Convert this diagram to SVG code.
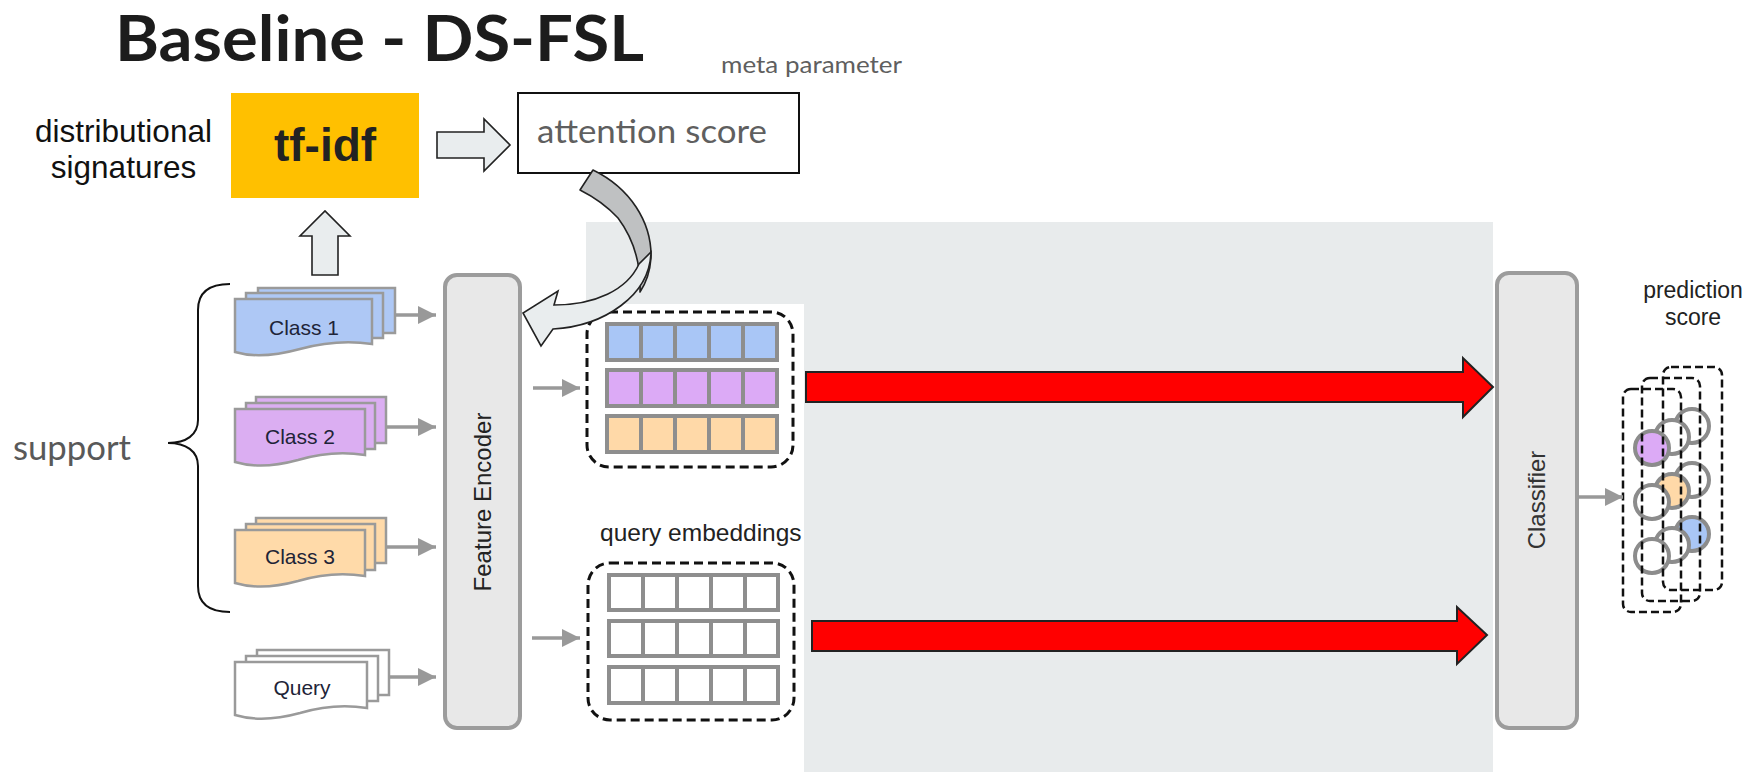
<svg xmlns="http://www.w3.org/2000/svg" width="1750" height="772" viewBox="0 0 1750 772">
  <defs>
    <style>
      .sans { font-family: "Liberation Sans", Arial, sans-serif; }
      .lato { font-family: Lato, "Open Sans", sans-serif; }
      .card { stroke: #9a9a9a; stroke-width: 2.5; }
      .c1 { fill: #aec8f5; }
      .c2 { fill: #dbaef2; }
      .c3 { fill: #ffdaa9; }
      .cq { fill: #ffffff; }
      .cardtext { font-size: 21px; fill: #1e2438; text-anchor: middle; }
      .block { fill: #e9edee; stroke: #222; stroke-width: 1.6; stroke-linejoin: miter; }
      .encoder { fill: #e8e8e8; stroke: #9c9c9c; stroke-width: 4; }
      .flow { stroke: #999; stroke-width: 3.5; fill: none; marker-end: url(#grayHead); }
      .dash { fill: none; stroke: #111; stroke-width: 3; stroke-dasharray: 9 5; }
      .cells { stroke: #8e8e8e; stroke-width: 4; }
      .red { fill: #ff0000; stroke: #222; stroke-width: 2; stroke-linejoin: miter; }
      .score { stroke: #8c8c8c; stroke-width: 4; }
      .s-w { fill: #ffffff; }
      .s-b { fill: #a9c6f6; }
      .s-o { fill: #ffd9a8; }
      .s-p { fill: #dcaaf6; }
      .pbox { fill: none; stroke: #111; stroke-width: 2.5; stroke-dasharray: 8 4; }
    </style>
    <marker id="grayHead" viewBox="0 0 18 18" markerWidth="18" markerHeight="18" refX="18" refY="9" markerUnits="userSpaceOnUse" orient="auto">
      <path d="M0,0 L18,9 L0,18 Z" fill="#999"/>
    </marker>
  </defs>

  <rect width="1750" height="772" fill="#ffffff"/>

  <!-- shaded panel behind the embedding / classifier stage -->
  <path d="M586,222 H1493 V772 H804 V304 H586 Z" fill="#e8ebec"/>

  <!-- title -->
  <text x="115" y="61" class="lato" font-size="63" font-weight="bold" fill="#1c1c1c" textLength="529" lengthAdjust="spacingAndGlyphs">Baseline - DS-FSL</text>

  <!-- distributional signatures label -->
  <g id="ds-label">
    <text x="123.5" y="142" class="sans" font-size="31.5" fill="#111" text-anchor="middle">distributional</text>
    <text x="123.5" y="178" class="sans" font-size="31.5" fill="#111" text-anchor="middle">signatures</text>
  </g>

  <!-- tf-idf -->
  <g id="tfidf">
    <rect x="231" y="93" width="188" height="105" fill="#ffc000"/>
    <text x="325" y="161" class="sans" font-size="46" font-weight="bold" fill="#222" text-anchor="middle">tf-idf</text>
  </g>

  <!-- attention score -->
  <g id="attention">
    <text x="721" y="73" class="lato" font-size="24" fill="#5f5f5f" textLength="181" lengthAdjust="spacingAndGlyphs">meta parameter</text>
    <rect x="518" y="93" width="281" height="80" fill="#ffffff" stroke="#111" stroke-width="2"/>
    <text x="537" y="143" class="lato" font-size="32" fill="#5f5f5f" textLength="230" lengthAdjust="spacingAndGlyphs">attention score</text>
  </g>

  <!-- support label and brace -->
  <g id="support">
    <text x="13" y="460" class="lato" font-size="34" fill="#595959" textLength="118" lengthAdjust="spacingAndGlyphs">support</text>
    <path d="M230,284 C210,284 198,292 198,310 V420 C198,435 186,443 168,443 C186,443 198,451 198,466 V586 C198,604 210,612 230,612" fill="none" stroke="#111" stroke-width="2"/>
  </g>

  <!-- input document stacks -->
  <g id="class1">
    <rect class="card c1" x="258" y="288" width="137" height="45"/>
    <rect class="card c1" x="246" y="293" width="137" height="45"/>
    <path class="card c1" d="M235,299 H372 V344 C345,340 322,343 300,349 C278,355 255,358 235,352 Z"/>
    <text x="304" y="335" class="sans cardtext">Class 1</text>
  </g>
  <g id="class2">
    <rect class="card c2" x="256" y="397" width="130" height="46"/>
    <rect class="card c2" x="246" y="403" width="129" height="46"/>
    <path class="card c2" d="M235,409 H365 V455 C340,451 318,454 298,460 C276,466 255,468 235,462 Z"/>
    <text x="300" y="444" class="sans cardtext">Class 2</text>
  </g>
  <g id="class3">
    <rect class="card c3" x="256" y="518" width="130" height="45"/>
    <rect class="card c3" x="246" y="524" width="129" height="46"/>
    <path class="card c3" d="M235,530 H365 V576 C340,572 318,575 298,581 C276,587 255,589 235,583 Z"/>
    <text x="300" y="564" class="sans cardtext">Class 3</text>
  </g>
  <g id="query">
    <rect class="card cq" x="257" y="650" width="132" height="45"/>
    <rect class="card cq" x="246" y="656" width="132" height="45"/>
    <path class="card cq" d="M235,662 H367 V708 C342,704 320,707 300,713 C278,719 255,721 235,715 Z"/>
    <text x="302" y="695" class="sans cardtext">Query</text>
  </g>

  <!-- feature encoder -->
  <g id="feature-encoder">
    <rect class="encoder" x="445" y="275" width="75" height="453" rx="12"/>
    <text transform="translate(491,502) rotate(-90)" class="sans" font-size="24" fill="#222" text-anchor="middle">Feature Encoder</text>
  </g>

  <!-- support embeddings -->
  <g id="support-embeddings">
    <rect class="dash" x="587" y="312" width="206" height="155" rx="22"/>
    <g class="cells">
      <rect x="607" y="324" width="170" height="36" fill="#a9c6f6"/>
      <rect x="607" y="370" width="170" height="36" fill="#dcaaf6"/>
      <rect x="607" y="416" width="170" height="36" fill="#ffd9a8"/>
      <path d="M641,324 V360 M675,324 V360 M709,324 V360 M743,324 V360 M641,370 V406 M675,370 V406 M709,370 V406 M743,370 V406 M641,416 V452 M675,416 V452 M709,416 V452 M743,416 V452" fill="none"/>
    </g>
  </g>

  <!-- query embeddings -->
  <g id="query-embeddings">
    <text x="600" y="541" class="sans" font-size="24.5" fill="#222">query embeddings</text>
    <rect class="dash" x="588" y="563" width="206" height="157" rx="22"/>
    <g class="cells" fill="#ffffff">
      <rect x="609" y="575" width="169" height="35"/>
      <rect x="609" y="621" width="169" height="35"/>
      <rect x="609" y="667" width="169" height="36"/>
      <path d="M643,575 V610 M677,575 V610 M711,575 V610 M745,575 V610 M643,621 V656 M677,621 V656 M711,621 V656 M745,621 V656 M643,667 V703 M677,667 V703 M711,667 V703 M745,667 V703" fill="none"/>
    </g>
  </g>

  <!-- classifier -->
  <g id="classifier">
    <rect class="encoder" x="1497" y="273" width="80" height="455" rx="12"/>
    <text transform="translate(1545,500) rotate(-90)" class="sans" font-size="24" fill="#333" text-anchor="middle">Classifier</text>
  </g>

  <!-- prediction score: three stacked score columns -->
  <g id="prediction-score">
    <text x="1693" y="298" class="sans" font-size="23" fill="#222" text-anchor="middle">prediction</text>
    <text x="1693" y="325" class="sans" font-size="23" fill="#222" text-anchor="middle">score</text>
    <circle class="score s-w" cx="1692" cy="426" r="17"/>
    <circle class="score s-w" cx="1692" cy="480" r="17"/>
    <circle class="score s-b" cx="1692" cy="534" r="17"/>
    <circle class="score s-w" cx="1672" cy="437" r="17"/>
    <circle class="score s-o" cx="1672" cy="491" r="17"/>
    <circle class="score s-w" cx="1672" cy="545" r="17"/>
    <circle class="score s-p" cx="1652" cy="448" r="17"/>
    <circle class="score s-w" cx="1652" cy="502" r="17"/>
    <circle class="score s-w" cx="1652" cy="556" r="17"/>
    <rect class="pbox" x="1663" y="367" width="59" height="223" rx="8"/>
    <rect class="pbox" x="1642" y="378" width="58" height="223" rx="8"/>
    <rect class="pbox" x="1623" y="389" width="58" height="223" rx="8"/>
  </g>

  <!-- connectors -->
  <g id="connectors">
    <!-- tf-idf to attention score -->
    <polygon class="block" points="437,132 484,132 484,119 510,145 484,171 484,158 437,158"/>
    <!-- support set to tf-idf -->
    <polygon class="block" points="312,275 312,236 300,236 325,211 350,236 338,236 338,275"/>

    <!-- attention score fed back into the encoder (curved block arrow) -->
    <path d="M593,170 C630,188 652,222 651,258 C650,272 646,283 640,292 C641,264 633,238 618,218 C606,205 594,197 580,190 Z" fill="#bfc1c2" stroke="#222" stroke-width="1.6" stroke-linejoin="round"/>
    <path d="M651,252 C650,295 605,326 553,329 L541,346 L523,313 L558,291 L554,305 C595,305 627,290 639,264 Z" fill="#e9edee" stroke="#222" stroke-width="1.6" stroke-linejoin="miter"/>

    <!-- inputs into the encoder -->
    <line class="flow" x1="395" y1="315" x2="436" y2="315"/>
    <line class="flow" x1="386" y1="427" x2="436" y2="427"/>
    <line class="flow" x1="386" y1="547" x2="436" y2="547"/>
    <line class="flow" x1="389" y1="677" x2="436" y2="677"/>

    <!-- encoder to embeddings -->
    <line class="flow" x1="533" y1="388" x2="580" y2="388"/>
    <line class="flow" x1="532" y1="638" x2="580" y2="638"/>

    <!-- embeddings to classifier -->
    <polygon class="red" points="806,372 1463,372 1463,358 1493,387 1463,417 1463,402 806,402"/>
    <polygon class="red" points="812,621 1457,621 1457,607 1487,635 1457,664 1457,651 812,651"/>

    <!-- classifier to prediction score -->
    <line class="flow" x1="1578" y1="497" x2="1623" y2="497"/>
  </g>
</svg>
